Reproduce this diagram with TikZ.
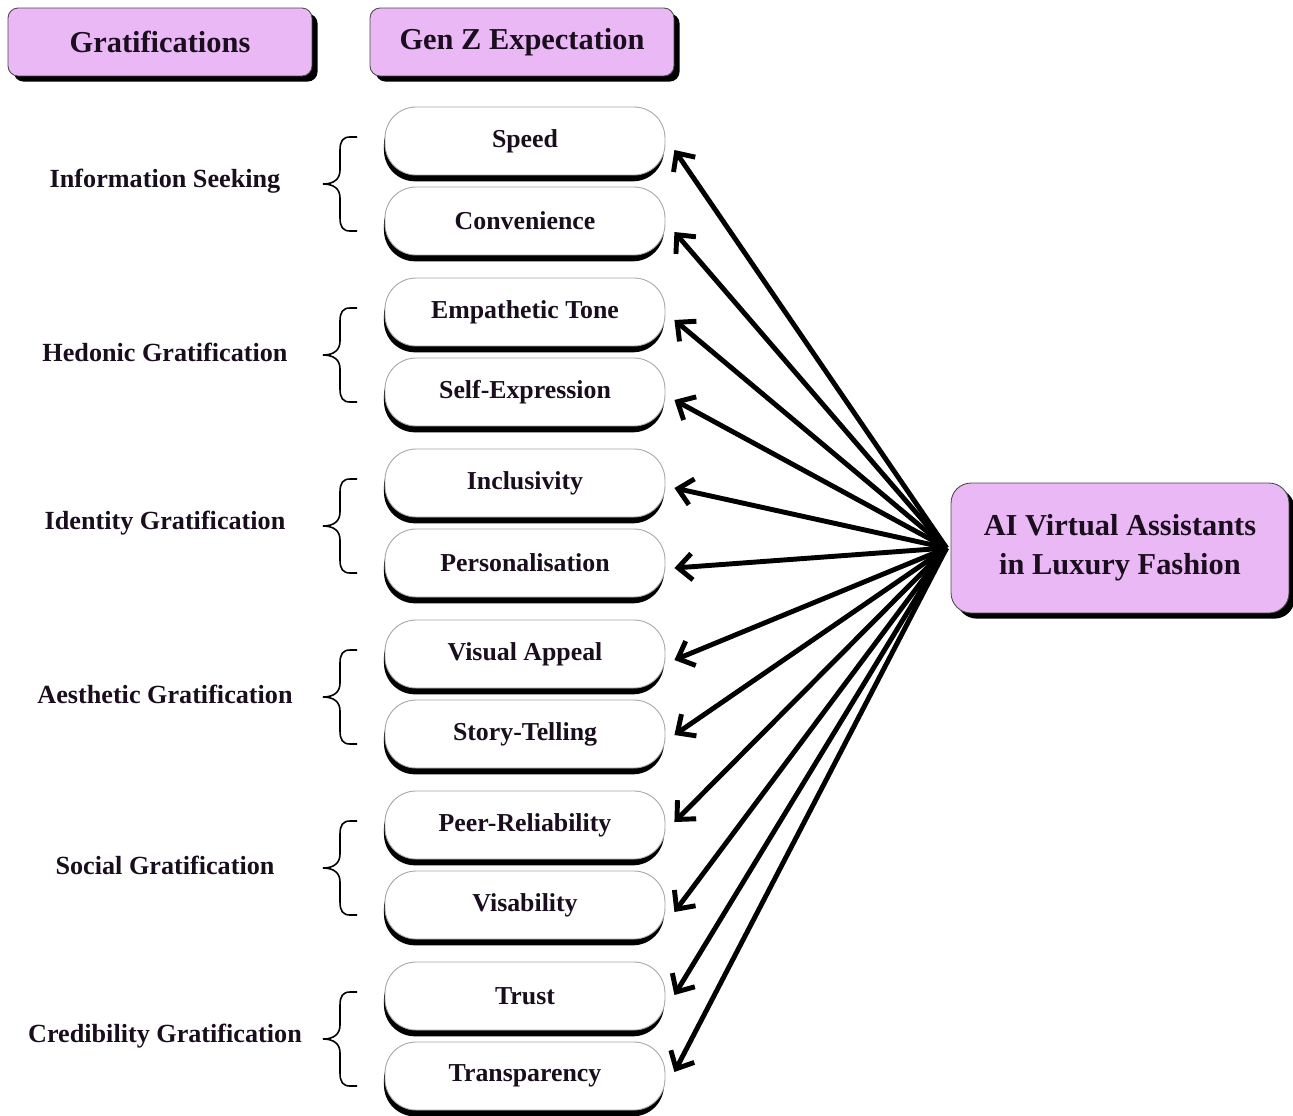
\documentclass[tikz,border=0pt]{standalone}
\usepackage{fontspec}
\setmainfont{Liberation Serif}
\usetikzlibrary{arrows.meta,shadows}
\definecolor{headpink}{RGB}{234,184,244}
\definecolor{inkdark}{RGB}{26,14,30}
\begin{document}
\begin{tikzpicture}[x=0.02cm,y=-0.02cm,
  header/.style={draw=black!70,line width=0.5pt,fill=headpink,rounded corners=0.2cm,
    minimum width=6.08cm,minimum height=1.36cm,inner sep=0pt,
    font=\fontsize{17.3}{20}\selectfont\bfseries,text=inkdark,
    drop shadow={shadow xshift=3.2pt,shadow yshift=-3.2pt,fill=black,opacity=1}},
  pill/.style={draw=black!35,line width=0.5pt,fill=white,rounded corners=0.62cm,
    minimum width=5.6cm,minimum height=1.36cm,inner sep=0pt,
    font=\fontsize{14.7}{17}\selectfont\bfseries,text=inkdark,
    drop shadow={shadow xshift=-0.6pt,shadow yshift=-3.6pt,fill=black,opacity=1}},
  hub/.style={draw=black!70,line width=0.5pt,fill=headpink,rounded corners=0.4cm,
    minimum width=6.76cm,minimum height=2.6cm,inner sep=0pt,align=center,
    font=\fontsize{17.3}{22}\selectfont\bfseries,text=inkdark,
    drop shadow={shadow xshift=3.2pt,shadow yshift=-3.2pt,fill=black,opacity=1}},
  grat/.style={font=\fontsize{14.9}{17}\selectfont\bfseries,text=inkdark},
  bracket/.style={draw=black,line width=0.9pt},
  link/.style={draw=black,line width=2.8pt,-{Straight Barb[length=8pt,width=15pt,line width=2.8pt]}}
]
\useasboundingbox (0,0) rectangle (1293,1115);

% column headers
\node[header] (hgrat) at (160,42) {Gratifications};
\node[header] (hgen) at (522,42) {Gen Z Expectation};

% expectation pills
\node[pill] (p1)  at (525,141)  {Speed};
\node[pill] (p2)  at (525,221)  {Convenience};
\node[pill] (p3)  at (525,312)  {Empathetic Tone};
\node[pill] (p4)  at (525,392)  {Self-Expression};
\node[pill] (p5)  at (525,483)  {Inclusivity};
\node[pill] (p6)  at (525,563)  {Personalisation};
\node[pill] (p7)  at (525,654)  {Visual Appeal};
\node[pill] (p8)  at (525,734)  {Story-Telling};
\node[pill] (p9)  at (525,825)  {Peer-Reliability};
\node[pill] (p10) at (525,905)  {Visability};
\node[pill] (p11) at (525,996)  {Trust};
\node[pill] (p12) at (525,1076) {Transparency};

% gratification labels
\node[grat] (g1) at (165,181)  {Information Seeking};
\node[grat] (g2) at (165,352)  {Hedonic Gratification};
\node[grat] (g3) at (165,523)  {Identity Gratification};
\node[grat] (g4) at (165,694)  {Aesthetic Gratification};
\node[grat] (g5) at (165,865)  {Social Gratification};
\node[grat] (g6) at (165,1036) {Credibility Gratification};

% curly braces grouping each pair of pills
\foreach \t in {106,277,448,619,790,961}{
  \draw[bracket] (357,\t+31) -- (350,\t+31)
    .. controls (343,\t+31) and (340,\t+35) .. (340,\t+44)
    -- (340,\t+64)
    .. controls (340,\t+73) and (334,\t+78) .. (323,\t+78)
    .. controls (334,\t+78) and (340,\t+83) .. (340,\t+92)
    -- (340,\t+112)
    .. controls (340,\t+121) and (343,\t+125) .. (350,\t+125)
    -- (357,\t+125);
}

% central node
\node[hub] (ai) at (1120,548) {AI Virtual Assistants\\in Luxury Fashion};
\coordinate (src) at ([xshift=-0.08cm]ai.west);

% arrows fanning out to every expectation
\foreach \p/\dy in {p1/9,p2/11,p3/8,p4/8,p5/5,p6/5,p7/6,p8/1,p9/-3,p10/7,p11/-1,p12/-4}{
  \draw[link] (src) -- ([shift={(9,\dy)}]\p.east);
}
\end{tikzpicture}
\end{document}
